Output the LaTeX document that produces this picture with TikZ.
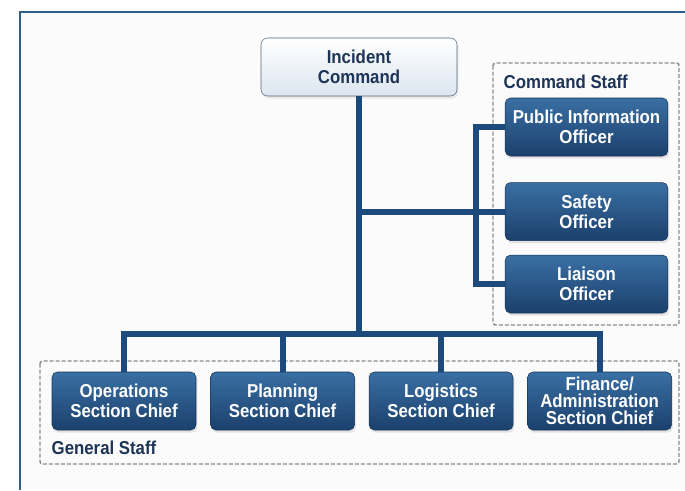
\documentclass[tikz,border=0pt]{standalone}
\usepackage{fontspec}
\setmainfont{Liberation Sans}[FakeStretch=0.9]
\usepackage{tikz}
\usetikzlibrary{positioning,shadows}
\definecolor{boxtop}{HTML}{3A6FA3}
\definecolor{boxbot}{HTML}{1B406C}
\definecolor{boxline}{HTML}{15325A}
\definecolor{icbot}{HTML}{DCE5EF}
\definecolor{icline}{HTML}{56667C}
\definecolor{navy}{HTML}{1E3456}
\definecolor{linkblue}{HTML}{1D4A7C}
\definecolor{frameblue}{HTML}{2F5F91}
\definecolor{dashgray}{HTML}{8C8C8C}
\definecolor{paper}{HTML}{FBFBFB}
\tikzset{
  font=\fontsize{14}{15}\selectfont\bfseries
}

\begin{document}
\begin{tikzpicture}[x=0.75pt,y=-0.75pt,
  lead/.style={rectangle,rounded corners=5pt,draw=icline,top color=white,bottom color=icbot,text=navy,align=center,minimum width=147pt,minimum height=43.5pt,inner sep=2pt,drop shadow={opacity=0.15,shadow xshift=1pt,shadow yshift=-2pt}},
  officer/.style={rectangle,rounded corners=4pt,draw=boxline,top color=boxtop,bottom color=boxbot,text=white,align=center,minimum width=122pt,minimum height=43.5pt,inner sep=2pt,drop shadow={opacity=0.2,shadow xshift=1pt,shadow yshift=-2pt}},
  chief/.style={officer,minimum width=108pt},
  group/.style={draw=dashgray,line width=1.1pt,dash pattern=on 3pt off 1.5pt,rounded corners=2pt},
  grouplabel/.style={anchor=west,text=navy},
  link/.style={draw=linkblue,line width=4.5pt}]
\useasboundingbox (0,0) rectangle (685,490);
\fill[white] (0,0) rectangle (685,490);
\fill[paper] (20,12) rectangle (685,490);
\draw[frameblue,line width=2.2pt] (20,490) -- (20,12) -- (685,12);

% staff groups
\draw[group] (493,63) rectangle (679,325);
\draw[group] (40,361) rectangle (679,464);
\node[grouplabel] (cmdlabel) at (499,82) {Command Staff};
\node[grouplabel] (genlabel) at (47,448) {General Staff};

% boxes
\node[lead] (ic) at (359,67) {Incident\\Command};
\node[officer] (pio) at (586.5,127) {Public Information\\Officer};
\node[officer] (safety) [below=19.5pt of pio] {Safety\\Officer};
\node[officer] (liaison) [below=10.5pt of safety] {Liaison\\Officer};
\node[chief] (ops) at (124,401) {Operations\\Section Chief};
\node[chief] (plan) [right=10.5pt of ops] {Planning\\Section Chief};
\node[chief] (logs) [right=10.5pt of plan] {Logistics\\Section Chief};
\node[chief,font=\fontsize{14}{12.75}\selectfont\bfseries,inner sep=1pt] (fin) [right=10.5pt of logs] {Finance/\\Administration\\Section Chief};

% connectors
\coordinate (hub) at (ic.south |- safety.west);
\coordinate (bar) at (ic.south |- 0,334);
\coordinate (spine) at (476,211);
\draw[link] (ic.south) -- (bar);
\draw[link] (hub) -- (safety.west);
\draw[link] (pio.west) -| (spine) |- (liaison.west);
\draw[link] (ops.north) |- (bar) -| (fin.north);
\draw[link] (plan.north) -- (plan.north |- bar);
\draw[link] (logs.north) -- (logs.north |- bar);
\end{tikzpicture}
\end{document}
